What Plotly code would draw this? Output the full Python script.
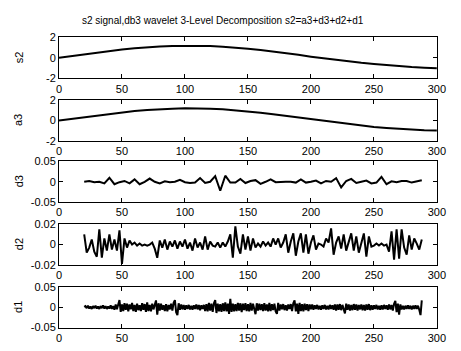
import plotly.graph_objects as go

# ---------------- data ----------------
t_smooth = list(range(0, 301, 10))
s2_vals = [0.00, 0.17, 0.34, 0.50, 0.65, 0.79, 0.91, 1.01, 1.08, 1.13,
           1.15, 1.15, 1.12, 1.06, 0.98, 0.87, 0.74, 0.60, 0.44, 0.27,
           0.10, -0.06, -0.21, -0.36, -0.50, -0.62, -0.73, -0.83, -0.91, -0.97,
           -1.01]
a3_vals = [0.00, 0.15, 0.32, 0.49, 0.64, 0.78, 0.90, 1.00, 1.09, 1.13,
           1.18, 1.17, 1.12, 1.07, 0.98, 0.88, 0.75, 0.60, 0.45, 0.28,
           0.11, -0.05, -0.20, -0.35, -0.49, -0.62, -0.72, -0.82, -0.92, -0.95,
           -0.97]

t_d3 = list(range(20, 289, 4))
d3_vals = [0.000, 0.002, -0.001, 0.000, -0.004, 0.010, -0.006, -0.001, 0.002, -0.004,
           0.006, -0.006, 0.000, 0.008, 0.000, -0.004, 0.001, -0.001, 0.000, 0.005,
           -0.001, -0.003, -0.002, 0.009, -0.003, 0.000, 0.014, -0.022, 0.015, -0.002,
           -0.002, 0.007, -0.003, 0.002, 0.004, -0.005, 0.000, 0.006, -0.001, 0.000,
           0.000, 0.000, -0.002, 0.006, -0.002, 0.000, 0.003, -0.004, 0.002, 0.000,
           0.009, -0.014, 0.002, 0.007, -0.003, 0.000, 0.003, -0.004, -0.002, 0.012,
           -0.006, 0.001, -0.001, 0.002, 0.002, -0.002, 0.001, 0.004]

t_d2 = list(range(20, 289, 2))
d2_vals = [0.010, -0.008, -0.003, 0.005, -0.007, -0.012, 0.015, -0.013, 0.006, -0.006,
           0.010, -0.005, 0.005, -0.006, 0.014, -0.019, 0.006, -0.003, 0.004, 0.000,
           0.002, -0.001, 0.001, -0.001, 0.000, -0.001, 0.000, 0.002, -0.004, -0.013,
           0.004, -0.003, 0.005, -0.005, 0.003, -0.002, 0.004, -0.004, 0.003, -0.002,
           0.005, -0.004, 0.002, -0.006, 0.006, -0.003, 0.002, -0.005, 0.008, -0.005,
           0.003, -0.001, -0.002, 0.002, -0.003, 0.002, -0.002, 0.003, 0.010, -0.013,
           0.018, -0.002, -0.009, 0.010, -0.005, 0.008, -0.006, 0.006, -0.003, 0.001,
           -0.002, 0.003, -0.001, 0.002, -0.002, 0.006, 0.000, 0.006, -0.003, 0.002,
           0.010, -0.008, 0.003, 0.011, -0.011, 0.003, 0.011, -0.008, 0.010, -0.009,
           0.002, 0.009, -0.005, 0.001, 0.000, -0.002, 0.006, 0.002, 0.016, -0.010,
           0.002, 0.008, -0.004, 0.010, -0.006, 0.004, 0.011, -0.006, 0.008, -0.008,
           0.003, 0.011, -0.012, 0.008, -0.002, -0.001, 0.001, -0.001, 0.001, -0.001,
           0.000, -0.007, 0.013, -0.015, 0.015, -0.014, 0.015, -0.003, -0.010, 0.009,
           -0.005, 0.006, 0.001, -0.005, 0.005]

t_d1 = list(range(20, 289, 1))
d1_vals = [0.001, 0.003, -0.002, 0.004, -0.003, 0.002, -0.004, 0.003, -0.002, 0.004,
           -0.003, 0.002, -0.004, 0.003, -0.002, 0.005, -0.003, 0.003, -0.004, 0.002,
           -0.003, 0.005, -0.004, 0.003, -0.006, 0.007, -0.005, 0.008, 0.018, -0.011,
           0.007, -0.009, 0.010, -0.006, 0.009, -0.010, 0.007, -0.005, 0.011, -0.009,
           0.006, -0.011, 0.009, -0.007, 0.005, -0.009, 0.010, -0.006, 0.008, -0.011,
           0.012, -0.009, 0.006, -0.010, 0.009, -0.005, 0.006, 0.017, -0.018, 0.010,
           -0.008, 0.009, -0.006, 0.005, -0.009, 0.008, -0.010, 0.006, -0.005, 0.009,
           -0.008, 0.011, 0.018, -0.012, -0.019, 0.010, -0.006, 0.007, -0.005, 0.006,
           -0.006, 0.005, -0.004, 0.006, -0.005, 0.004, -0.006, 0.005, -0.004, 0.007,
           -0.005, 0.006, -0.007, 0.005, -0.004, 0.006, -0.009, 0.008, -0.010, 0.011,
           -0.008, 0.009, -0.011, 0.010, 0.018, -0.014, 0.009, -0.010, 0.008, -0.011,
           0.010, -0.009, 0.012, -0.010, 0.009, -0.016, 0.021, -0.011, 0.009, -0.010,
           0.008, -0.009, 0.011, -0.008, 0.010, -0.012, 0.009, -0.007, 0.010, -0.009,
           0.008, -0.010, 0.011, -0.008, 0.009, -0.006, -0.017, 0.010, -0.008, 0.009,
           -0.007, 0.008, -0.009, 0.010, -0.008, 0.007, -0.010, 0.011, -0.009, 0.008,
           -0.007, 0.009, -0.010, -0.016, 0.011, -0.008, 0.007, -0.005, 0.008, -0.007,
           0.005, -0.008, 0.007, -0.004, 0.008, -0.009, 0.010, 0.017, -0.010, 0.009,
           -0.016, 0.011, -0.009, 0.008, -0.010, 0.009, -0.007, 0.008, -0.009, 0.007,
           -0.005, 0.007, -0.006, 0.005, -0.004, 0.006, -0.005, 0.004, -0.006, 0.005,
           -0.004, 0.006, -0.005, 0.004, -0.005, 0.006, -0.004, 0.005, -0.006, 0.007,
           -0.008, 0.007, -0.006, 0.008, -0.007, 0.006, -0.008, -0.015, 0.009, -0.006,
           0.007, -0.008, 0.006, -0.007, 0.008, -0.006, 0.007, -0.008, 0.006, -0.005,
           0.007, -0.007, 0.006, -0.008, 0.007, -0.006, 0.008, -0.007, 0.005, -0.006,
           0.005, -0.004, 0.006, -0.005, 0.004, -0.006, 0.005, -0.005, 0.006, -0.004,
           0.005, -0.006, 0.007, -0.005, 0.006, -0.008, 0.009, 0.016, -0.012, 0.009,
           -0.018, 0.007, -0.005, 0.004, -0.005, 0.004, -0.004, 0.005, -0.004, 0.004,
           -0.005, 0.004, -0.004, 0.005, -0.004, 0.004, -0.006, -0.019, 0.017]

x_ticks = [0, 50, 100, 150, 200, 250, 300]
panel_names = ["s2", "a3", "d3", "d2", "d1"]
y_limits = [2, 2, 0.05, 0.02, 0.05]
y_ticktext = [["-2", "0", "2"], ["-2", "0", "2"], ["-0.05", "0", "0.05"],
              ["-0.02", "0", "0.02"], ["-0.05", "0", "0.05"]]
title_text = "s2 signal,db3 wavelet 3-Level Decomposition s2=a3+d3+d2+d1"

series = [(t_smooth, s2_vals), (t_smooth, a3_vals), (t_d3, d3_vals),
          (t_d2, d2_vals), (t_d1, d1_vals)]

# ---------------- layout ----------------
W, H = 461, 351
left_px, right_px = 57.5, 445.5
boxes = [(32, 75), (97, 140), (161, 203), (226, 268), (291, 333)]
FONT = "Liberation Sans, Arial, Helvetica, sans-serif"

fig = go.Figure()
layout = dict(width=W, height=H, margin=dict(l=0, r=0, t=0, b=0),
              paper_bgcolor="white", plot_bgcolor="white", showlegend=False,
              font=dict(family=FONT, size=11, color="black"))
annotations = []
for i, ((tx, ty), (top, bot)) in enumerate(zip(series, boxes)):
    k = "" if i == 0 else str(i + 1)
    fig.add_trace(go.Scatter(x=tx, y=ty, mode="lines",
                             line=dict(color="black", width=2),
                             xaxis="x" + k, yaxis="y" + k, hoverinfo="skip"))
    lim = y_limits[i]
    layout["xaxis" + k] = dict(domain=[left_px / W, right_px / W], range=[0, 300],
                               tickvals=x_ticks, ticks="inside", ticklen=4,
                               showline=True, mirror="ticks", linecolor="black",
                               linewidth=1, tickcolor="black", showgrid=False,
                               zeroline=False, anchor="y" + k,
                               tickfont=dict(size=11))
    layout["yaxis" + k] = dict(domain=[(H - bot) / H, (H - top) / H],
                               range=[-lim, lim], tickvals=[-lim, 0, lim],
                               ticktext=y_ticktext[i], ticks="inside", ticklen=4,
                               showline=True, mirror="ticks", linecolor="black",
                               linewidth=1, tickcolor="black", showgrid=False,
                               zeroline=False, anchor="x" + k,
                               tickfont=dict(size=11))
    annotations.append(dict(text=panel_names[i], x=16 / W, y=(H - (top + bot) / 2) / H,
                            xref="paper", yref="paper", showarrow=False,
                            textangle=-90, font=dict(size=11),
                            xanchor="center", yanchor="middle"))
annotations.append(dict(text=title_text, x=226 / W, y=1 - 15 / H, xref="paper",
                        yref="paper", showarrow=False, font=dict(size=10),
                        xanchor="center", yanchor="middle"))
layout["annotations"] = annotations
fig.update_layout(**layout)
fig.write_html("out.html")
